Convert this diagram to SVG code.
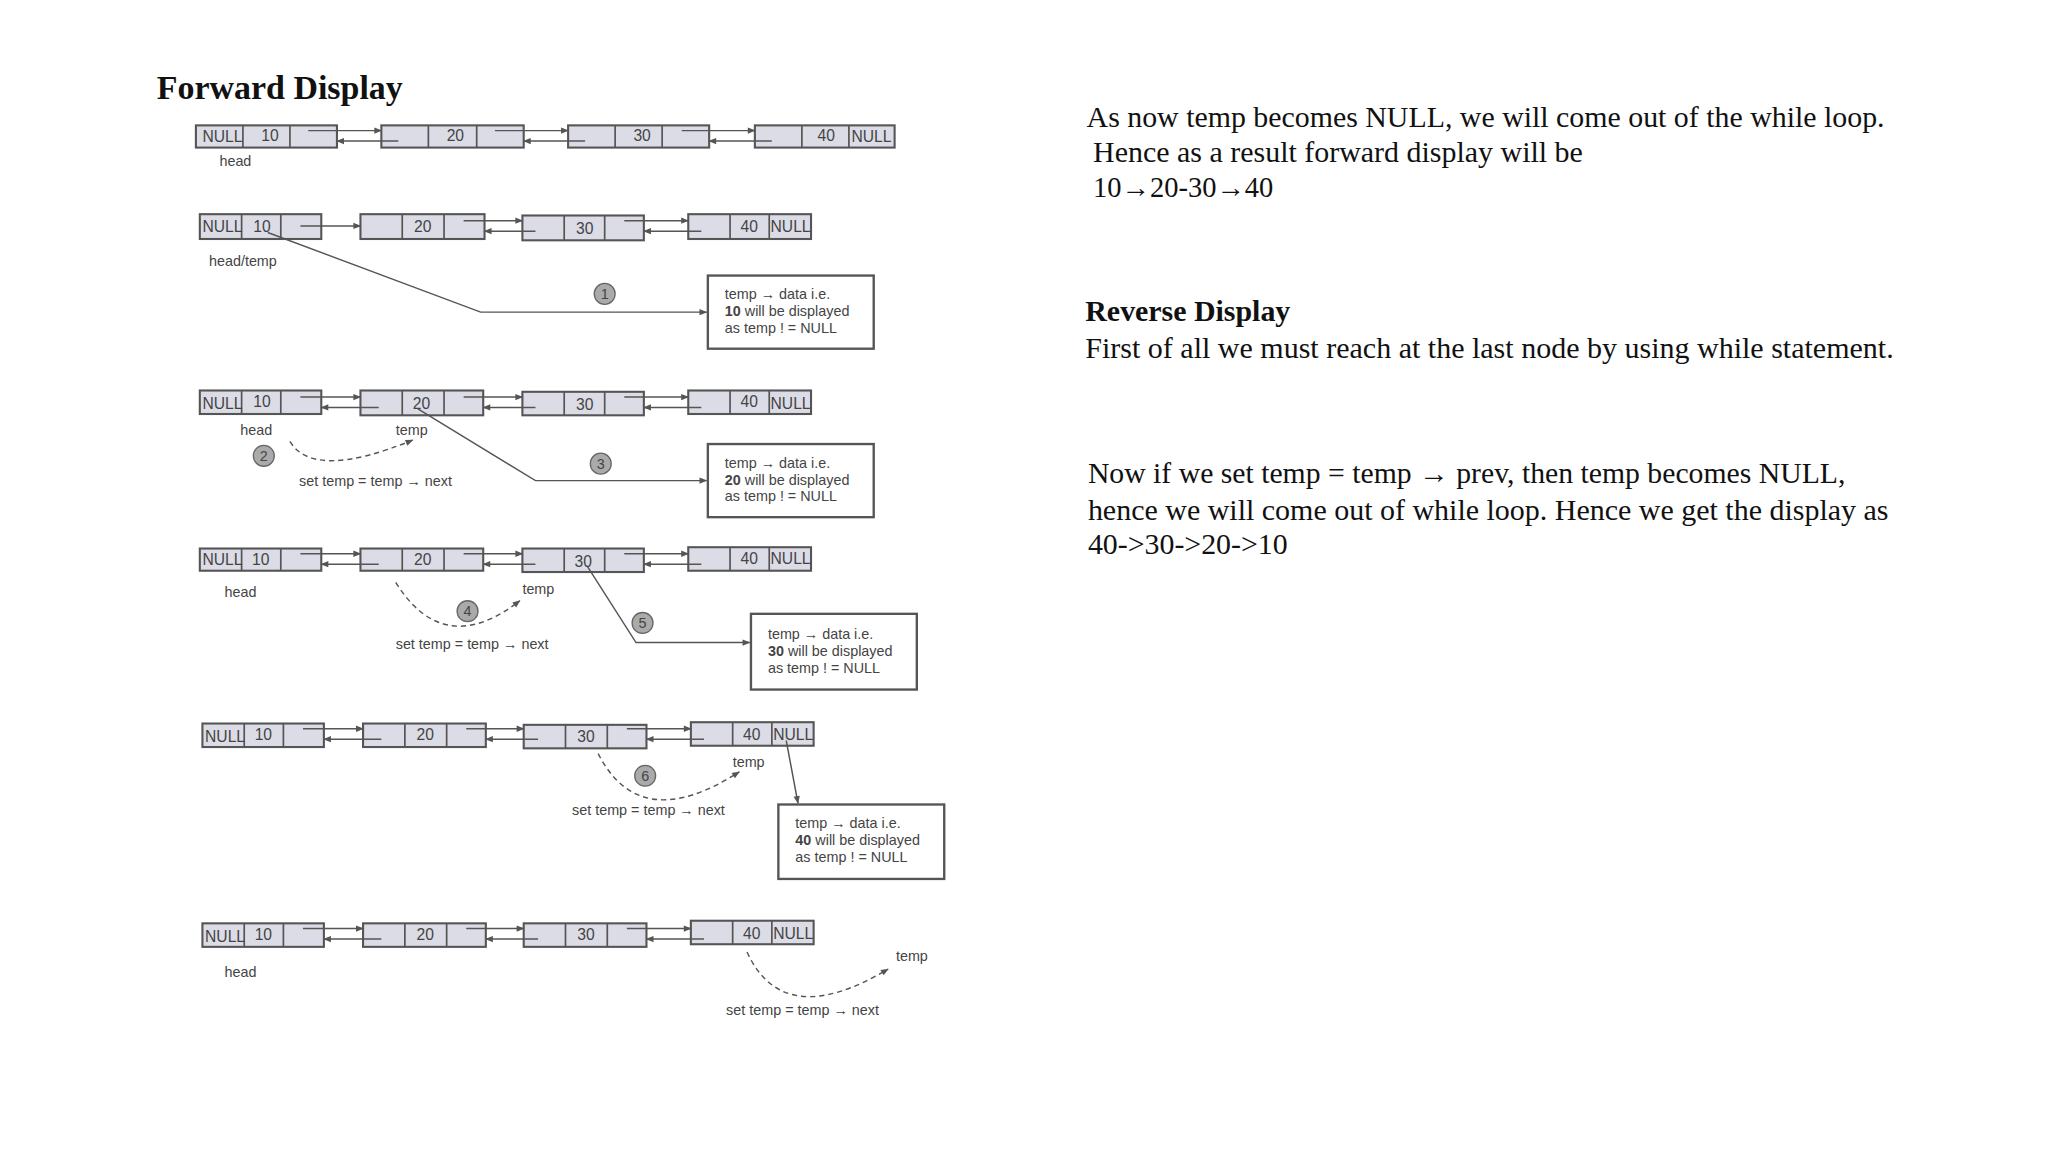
<svg xmlns="http://www.w3.org/2000/svg" width="2048" height="1152" viewBox="0 0 2048 1152">
<defs>
<marker id="ah" viewBox="0 0 10 10" refX="9" refY="5" markerWidth="7" markerHeight="6" orient="auto" markerUnits="userSpaceOnUse"><path d="M0,1 L10,5 L0,9 z" fill="#555"/></marker>
<style>
.n{fill:#dcdce6;stroke:#555;stroke-width:1.6}
.d{stroke:#555;stroke-width:1.3}
.t{font-family:"Liberation Sans",Arial,sans-serif;font-size:11px;fill:#444}
.v{font-family:"Liberation Sans",Arial,sans-serif;font-size:12px;fill:#444}
.c{stroke:#555;stroke-width:1.1;fill:none}
.da{stroke:#555;stroke-width:1.1;fill:none;stroke-dasharray:4 3}
.bx{fill:#fff;stroke:#555;stroke-width:1.8}
.cir{fill:#aaa;stroke:#666;stroke-width:1}
.s{font-family:"Liberation Serif","Times New Roman",serif;font-size:22px;fill:#111}
</style>
</defs>
<rect width="2048" height="1152" fill="#fff"/>
<g transform="scale(1.306)">
<text x="120" y="76" font-family="Liberation Serif,serif" font-weight="bold" font-size="26" fill="#111">Forward Display</text>

<!-- Row 1 -->
<g id="r1n1"><rect class="n" x="150" y="96" width="108" height="17"/><line class="d" x1="186" y1="96" x2="186" y2="113"/><line class="d" x1="222" y1="96" x2="222" y2="113"/><text class="v" x="155" y="109">NULL</text><text class="v" x="200" y="108">10</text></g>
<g id="r1n2"><rect class="n" x="292" y="96" width="109" height="17"/><line class="d" x1="328" y1="96" x2="328" y2="113"/><line class="d" x1="365" y1="96" x2="365" y2="113"/><text class="v" x="342" y="108">20</text></g>
<g id="r1n3"><rect class="n" x="435" y="96" width="108" height="17"/><line class="d" x1="471" y1="96" x2="471" y2="113"/><line class="d" x1="507" y1="96" x2="507" y2="113"/><text class="v" x="485" y="108">30</text></g>
<g id="r1n4"><rect class="n" x="578" y="96" width="107" height="17"/><line class="d" x1="614" y1="96" x2="614" y2="113"/><line class="d" x1="650" y1="96" x2="650" y2="113"/><text class="v" x="626" y="108">40</text><text class="v" x="652" y="109">NULL</text></g>
<text class="t" x="168" y="127">head</text>

<!-- Row 2 -->
<g id="r2n1"><rect class="n" x="153" y="164" width="93" height="19"/><line class="d" x1="185" y1="164" x2="185" y2="183"/><line class="d" x1="215" y1="164" x2="215" y2="183"/><text class="v" x="155" y="178">NULL</text><text class="v" x="194" y="178">10</text></g>
<g id="r2n2"><rect class="n" x="276" y="164" width="95" height="19"/><line class="d" x1="308" y1="164" x2="308" y2="183"/><line class="d" x1="340" y1="164" x2="340" y2="183"/><text class="v" x="317" y="178">20</text></g>
<g id="r2n3"><rect class="n" x="400" y="165" width="93" height="19"/><line class="d" x1="432" y1="165" x2="432" y2="184"/><line class="d" x1="463" y1="165" x2="463" y2="184"/><text class="v" x="441" y="179">30</text></g>
<g id="r2n4"><rect class="n" x="527" y="164" width="94" height="19"/><line class="d" x1="559" y1="164" x2="559" y2="183"/><line class="d" x1="589" y1="164" x2="589" y2="183"/><text class="v" x="567" y="178">40</text><text class="v" x="590" y="178">NULL</text></g>
<text class="t" x="160" y="204">head/temp</text>
<g id="b1"><rect class="bx" x="542" y="211" width="127" height="56"/><text class="t" x="555" y="229">temp → data i.e.</text><text class="t" x="555" y="242"><tspan font-weight="bold">10</tspan> will be displayed</text><text class="t" x="555" y="255">as temp ! = NULL</text></g>
<g id="c1"><circle class="cir" cx="463" cy="225" r="8"/><text class="t" x="463" y="229" text-anchor="middle">1</text></g>

<!-- Row 3 -->
<g id="r3n1"><rect class="n" x="153" y="299" width="93" height="18"/><line class="d" x1="185" y1="299" x2="185" y2="317"/><line class="d" x1="215" y1="299" x2="215" y2="317"/><text class="v" x="155" y="313">NULL</text><text class="v" x="194" y="312">10</text></g>
<g id="r3n2"><rect class="n" x="276" y="299" width="94" height="19"/><line class="d" x1="308" y1="299" x2="308" y2="318"/><line class="d" x1="340" y1="299" x2="340" y2="318"/><text class="v" x="316" y="313">20</text></g>
<g id="r3n3"><rect class="n" x="400" y="300" width="93" height="18"/><line class="d" x1="432" y1="300" x2="432" y2="318"/><line class="d" x1="463" y1="300" x2="463" y2="318"/><text class="v" x="441" y="314">30</text></g>
<g id="r3n4"><rect class="n" x="527" y="299" width="94" height="18"/><line class="d" x1="559" y1="299" x2="559" y2="317"/><line class="d" x1="589" y1="299" x2="589" y2="317"/><text class="v" x="567" y="312">40</text><text class="v" x="590" y="313">NULL</text></g>
<text class="t" x="184" y="333">head</text><text class="t" x="303" y="333">temp</text>
<g id="c2"><circle class="cir" cx="202" cy="349" r="8"/><text class="t" x="202" y="353" text-anchor="middle">2</text></g>
<text class="t" x="229" y="372">set temp = temp → next</text>
<g id="b3"><rect class="bx" x="542" y="340" width="127" height="56"/><text class="t" x="555" y="358">temp → data i.e.</text><text class="t" x="555" y="371"><tspan font-weight="bold">20</tspan> will be displayed</text><text class="t" x="555" y="384">as temp ! = NULL</text></g>
<g id="c3"><circle class="cir" cx="460" cy="355" r="8"/><text class="t" x="460" y="359" text-anchor="middle">3</text></g>

<!-- Row 4 -->
<g id="r4n1"><rect class="n" x="153" y="420" width="93" height="17"/><line class="d" x1="185" y1="420" x2="185" y2="437"/><line class="d" x1="215" y1="420" x2="215" y2="437"/><text class="v" x="155" y="433">NULL</text><text class="v" x="193" y="433">10</text></g>
<g id="r4n2"><rect class="n" x="276" y="420" width="94" height="17"/><line class="d" x1="308" y1="420" x2="308" y2="437"/><line class="d" x1="340" y1="420" x2="340" y2="437"/><text class="v" x="317" y="433">20</text></g>
<g id="r4n3"><rect class="n" x="400" y="420" width="93" height="18"/><line class="d" x1="432" y1="420" x2="432" y2="438"/><line class="d" x1="463" y1="420" x2="463" y2="438"/><text class="v" x="440" y="434">30</text></g>
<g id="r4n4"><rect class="n" x="527" y="419" width="94" height="18"/><line class="d" x1="559" y1="419" x2="559" y2="437"/><line class="d" x1="589" y1="419" x2="589" y2="437"/><text class="v" x="567" y="432">40</text><text class="v" x="590" y="432">NULL</text></g>
<text class="t" x="172" y="457">head</text><text class="t" x="400" y="455">temp</text>
<g id="c4"><circle class="cir" cx="358" cy="468" r="8"/><text class="t" x="358" y="472" text-anchor="middle">4</text></g>
<text class="t" x="303" y="497">set temp = temp → next</text>
<g id="b5"><rect class="bx" x="575" y="470" width="127" height="58"/><text class="t" x="588" y="489">temp → data i.e.</text><text class="t" x="588" y="502"><tspan font-weight="bold">30</tspan> will be displayed</text><text class="t" x="588" y="515">as temp ! = NULL</text></g>
<g id="c5"><circle class="cir" cx="492" cy="477" r="8"/><text class="t" x="492" y="481" text-anchor="middle">5</text></g>

<!-- Row 5 -->
<g id="r5n1"><rect class="n" x="155" y="554" width="93" height="18"/><line class="d" x1="187" y1="554" x2="187" y2="572"/><line class="d" x1="217" y1="554" x2="217" y2="572"/><text class="v" x="157" y="568">NULL</text><text class="v" x="195" y="567">10</text></g>
<g id="r5n2"><rect class="n" x="278" y="554" width="94" height="18"/><line class="d" x1="310" y1="554" x2="310" y2="572"/><line class="d" x1="342" y1="554" x2="342" y2="572"/><text class="v" x="319" y="567">20</text></g>
<g id="r5n3"><rect class="n" x="401" y="555" width="94" height="18"/><line class="d" x1="433" y1="555" x2="433" y2="573"/><line class="d" x1="465" y1="555" x2="465" y2="573"/><text class="v" x="442" y="568">30</text></g>
<g id="r5n4"><rect class="n" x="529" y="553" width="94" height="18"/><line class="d" x1="561" y1="553" x2="561" y2="571"/><line class="d" x1="591" y1="553" x2="591" y2="571"/><text class="v" x="569" y="567">40</text><text class="v" x="592" y="567">NULL</text></g>
<text class="t" x="561" y="587">temp</text>
<g id="c6"><circle class="cir" cx="494" cy="594" r="8"/><text class="t" x="494" y="598" text-anchor="middle">6</text></g>
<text class="t" x="438" y="624">set temp = temp → next</text>
<g id="b6"><rect class="bx" x="596" y="616" width="127" height="57"/><text class="t" x="609" y="634">temp → data i.e.</text><text class="t" x="609" y="647"><tspan font-weight="bold">40</tspan> will be displayed</text><text class="t" x="609" y="660">as temp ! = NULL</text></g>

<!-- Row 6 -->
<g id="r6n1"><rect class="n" x="155" y="707" width="93" height="18"/><line class="d" x1="187" y1="707" x2="187" y2="725"/><line class="d" x1="217" y1="707" x2="217" y2="725"/><text class="v" x="157" y="721">NULL</text><text class="v" x="195" y="720">10</text></g>
<g id="r6n2"><rect class="n" x="278" y="707" width="94" height="18"/><line class="d" x1="310" y1="707" x2="310" y2="725"/><line class="d" x1="342" y1="707" x2="342" y2="725"/><text class="v" x="319" y="720">20</text></g>
<g id="r6n3"><rect class="n" x="401" y="707" width="94" height="18"/><line class="d" x1="433" y1="707" x2="433" y2="725"/><line class="d" x1="465" y1="707" x2="465" y2="725"/><text class="v" x="442" y="720">30</text></g>
<g id="r6n4"><rect class="n" x="529" y="705" width="94" height="18"/><line class="d" x1="561" y1="705" x2="561" y2="723"/><line class="d" x1="591" y1="705" x2="591" y2="723"/><text class="v" x="569" y="719">40</text><text class="v" x="592" y="719">NULL</text></g>
<text class="t" x="172" y="748">head</text><text class="t" x="686" y="736">temp</text>
<text class="t" x="556" y="777">set temp = temp → next</text>

<g id="connectors">
<!-- row1 -->
<path class="c" d="M236,100H292" marker-end="url(#ah)"/><path class="c" d="M305,108H258" marker-end="url(#ah)"/>
<path class="c" d="M379,100H435" marker-end="url(#ah)"/><path class="c" d="M448,108H401" marker-end="url(#ah)"/>
<path class="c" d="M522,100H578" marker-end="url(#ah)"/><path class="c" d="M591,108H543" marker-end="url(#ah)"/>
<!-- row2 -->
<path class="c" d="M230,173H276" marker-end="url(#ah)"/>
<path class="c" d="M355,169H400" marker-end="url(#ah)"/><path class="c" d="M410,177H371" marker-end="url(#ah)"/>
<path class="c" d="M478,169H527" marker-end="url(#ah)"/><path class="c" d="M537,177H493" marker-end="url(#ah)"/>
<path class="c" d="M205,178L368,239H541" marker-end="url(#ah)"/>
<!-- row3 -->
<path class="c" d="M230,304H276" marker-end="url(#ah)"/><path class="c" d="M290,312H246" marker-end="url(#ah)"/>
<path class="c" d="M355,304H400" marker-end="url(#ah)"/><path class="c" d="M410,312H370" marker-end="url(#ah)"/>
<path class="c" d="M478,304H527" marker-end="url(#ah)"/><path class="c" d="M537,312H493" marker-end="url(#ah)"/>
<path class="c" d="M320,313L410,368H541" marker-end="url(#ah)"/>
<path class="da" d="M222,338Q240,368 316,337" marker-end="url(#ah)"/>
<!-- row4 -->
<path class="c" d="M230,424H276" marker-end="url(#ah)"/><path class="c" d="M290,432H246" marker-end="url(#ah)"/>
<path class="c" d="M355,424H400" marker-end="url(#ah)"/><path class="c" d="M410,432H370" marker-end="url(#ah)"/>
<path class="c" d="M478,424H527" marker-end="url(#ah)"/><path class="c" d="M537,432H493" marker-end="url(#ah)"/>
<path class="c" d="M450,434L487,492H574" marker-end="url(#ah)"/>
<path class="da" d="M303,446Q340,505 398,460" marker-end="url(#ah)"/>
<!-- row5 -->
<path class="c" d="M232,558H278" marker-end="url(#ah)"/><path class="c" d="M292,566H248" marker-end="url(#ah)"/>
<path class="c" d="M357,558H401" marker-end="url(#ah)"/><path class="c" d="M412,566H372" marker-end="url(#ah)"/>
<path class="c" d="M480,558H529" marker-end="url(#ah)"/><path class="c" d="M539,566H495" marker-end="url(#ah)"/>
<path class="c" d="M602,567L611,615" marker-end="url(#ah)"/>
<path class="da" d="M458,577Q490,640 566,591" marker-end="url(#ah)"/>
<!-- row6 -->
<path class="c" d="M232,711H278" marker-end="url(#ah)"/><path class="c" d="M292,719H248" marker-end="url(#ah)"/>
<path class="c" d="M357,711H401" marker-end="url(#ah)"/><path class="c" d="M412,719H372" marker-end="url(#ah)"/>
<path class="c" d="M480,711H529" marker-end="url(#ah)"/><path class="c" d="M539,719H495" marker-end="url(#ah)"/>
<path class="da" d="M572,729Q600,790 680,742" marker-end="url(#ah)"/>
</g>

<text class="s" x="832" y="97" textLength="611" lengthAdjust="spacingAndGlyphs">As now temp becomes NULL, we will come out of the while loop.</text>
<text class="s" x="837" y="124" textLength="375" lengthAdjust="spacingAndGlyphs">Hence as a result forward display will be</text>
<text class="s" x="837" y="151" textLength="138" lengthAdjust="spacingAndGlyphs">10→20-30→40</text>
<text class="s" x="831" y="246" font-weight="bold" textLength="157" lengthAdjust="spacingAndGlyphs">Reverse Display</text>
<text class="s" x="831" y="274" textLength="619" lengthAdjust="spacingAndGlyphs">First of all we must reach at the last node by using while statement.</text>
<text class="s" x="833" y="370" textLength="580" lengthAdjust="spacingAndGlyphs">Now if we set temp = temp → prev, then temp becomes NULL,</text>
<text class="s" x="833" y="398" textLength="613" lengthAdjust="spacingAndGlyphs">hence we will come out of while loop. Hence we get the display as</text>
<text class="s" x="833" y="424" textLength="153" lengthAdjust="spacingAndGlyphs">40-&gt;30-&gt;20-&gt;10</text>
</g>
</svg>
